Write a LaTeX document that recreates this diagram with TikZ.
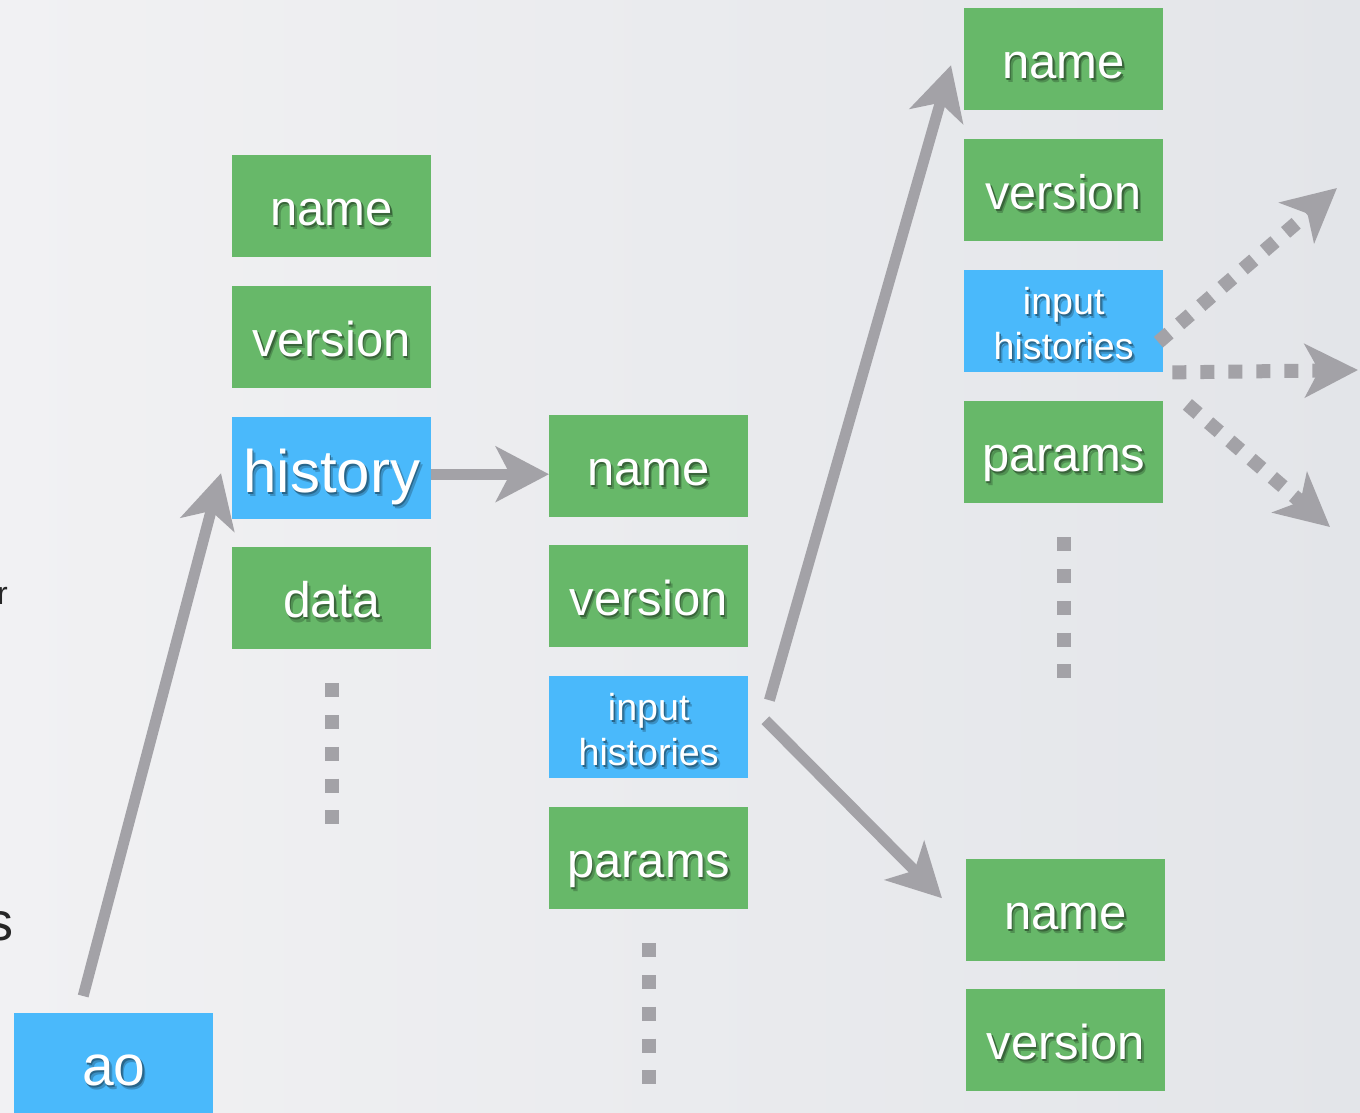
\documentclass[tikz,border=0pt]{standalone}
\usepackage{fontspec}
\setmainfont{Liberation Sans}
\usetikzlibrary{arrows.meta,calc}

\definecolor{boxgreen}{HTML}{67B869}
\definecolor{boxblue}{HTML}{4AB9FB}
\definecolor{arrowgray}{HTML}{A3A2A7}
\definecolor{bgleft}{HTML}{F1F1F3}
\definecolor{bgright}{HTML}{E3E5E9}

\tikzset{
  fieldbox/.style={rectangle, draw=none, minimum width=199pt, minimum height=102pt,
    inner sep=0pt, anchor=north west},
  greenbox/.style={fieldbox, fill=boxgreen},
  bluebox/.style={fieldbox, fill=boxblue},
  lbl/.style={inner sep=0pt, anchor=base, text=white},
  arrowline/.style={draw=arrowgray, line width=11pt,
    -{Stealth[length=53pt, width=55pt, inset=14pt]}},
  dotarrow/.style={draw=arrowgray, line width=14pt, dash pattern=on 14pt off 14pt,
    -{Stealth[length=53pt, width=53pt, inset=14pt]}},
  moredots/.style={draw=arrowgray, line width=14pt, dash pattern=on 14pt off 17.7pt},
  fragtext/.style={inner sep=0pt, text=black!85},
}

% white text with a two-step drop shadow tinted from the box colour
\newcommand\shadowed[2]{%
  \rlap{\hspace{3pt}\raisebox{-4.5pt}{\color{#1!78!black}#2}}%
  \rlap{\hspace{1.5pt}\raisebox{-2.2pt}{\color{#1!55!black}#2}}%
  #2}
% label of a box: node, box colour, font size, baseline offset from centre, text
\newcommand\boxtext[5]{%
  \node[lbl, font=\fontsize{#3}{#3}\selectfont] at ($(#1.center)+(0,#4)$) {\shadowed{#2}{#5}};
}

\begin{document}
\begin{tikzpicture}[x=1pt, y=-1pt]
\useasboundingbox (0,0) rectangle (1360,1112);
\begin{scope}
\clip (0,0) rectangle (1360,1112);
\fill[left color=bgleft, right color=bgright] (0,0) rectangle (1360,1112);

% cut-off letters at the left edge
\node[fragtext, font=\fontsize{32}{32}\selectfont, anchor=base west] (fragr) at (-3,604) {r};
\node[fragtext, font=\fontsize{54}{54}\selectfont, anchor=base west] (frags) at (-14,940) {s};

% root object
\node[bluebox] (ao) at (14,1013) {};
\boxtext{ao}{boxblue}{57}{21}{ao}

% object fields
\node[greenbox] (c1name) at (232,155) {};
\node[greenbox] (c1ver)  at (232,286) {};
\node[bluebox]  (c1hist) at (232,417) {};
\node[greenbox] (c1data) at (232,547) {};
\boxtext{c1name}{boxgreen}{49}{19}{name}
\boxtext{c1ver}{boxgreen}{49}{19}{version}
\boxtext{c1hist}{boxblue}{60}{24}{history}
\boxtext{c1data}{boxgreen}{50}{19.5}{data}

% history fields
\node[greenbox] (c2name) at (549,415) {};
\node[greenbox] (c2ver)  at (549,545) {};
\node[bluebox]  (c2inp)  at (549,676) {};
\node[greenbox] (c2par)  at (549,807) {};
\boxtext{c2name}{boxgreen}{49}{19}{name}
\boxtext{c2ver}{boxgreen}{49}{19}{version}
\boxtext{c2inp}{boxblue}{37.6}{-7}{input}
\boxtext{c2inp}{boxblue}{37.6}{38}{histories}
\boxtext{c2par}{boxgreen}{49}{19}{params}

% first input history
\node[greenbox] (c3name) at (964,8) {};
\node[greenbox] (c3ver)  at (964,139) {};
\node[bluebox]  (c3inp)  at (964,270) {};
\node[greenbox] (c3par)  at (964,401) {};
\boxtext{c3name}{boxgreen}{49}{19}{name}
\boxtext{c3ver}{boxgreen}{48.5}{19}{version}
\boxtext{c3inp}{boxblue}{37.6}{-7}{input}
\boxtext{c3inp}{boxblue}{37.6}{38}{histories}
\boxtext{c3par}{boxgreen}{49}{19}{params}

% second input history
\node[greenbox] (c4name) at (966,859) {};
\node[greenbox] (c4ver)  at (966,989) {};
\boxtext{c4name}{boxgreen}{49}{19}{name}
\boxtext{c4ver}{boxgreen}{49}{19}{version}

% continuation marks below each column
\draw[moredots] ($(c1data.south)+(0,34)$) -- ++(0,141);
\draw[moredots] ($(c2par.south)+(0,34)$) -- ++(0,141);
\draw[moredots] ($(c3par.south)+(0,34)$) -- ++(0,141);

% links
\draw[arrowline] ($(ao.north)+(-30.5,-17)$) -- ($(c1hist.west)+(-11,5)$);
\draw[arrowline] ($(c1hist.east)+(0,6)$) -- ($(c2name.west)+(0,8)$);
\draw[arrowline] ($(c2inp.east)+(21,-27)$) -- ($(c3name.west)+(-13,6)$);
\draw[arrowline] ($(c2inp.east)+(17,-7)$) -- ($(c4name.west)+(-24,-12)$);

% further input histories
\coordinate (outA) at (1337,188);
\coordinate (outB) at (1358,370);
\coordinate (outC) at (1330,527);
\draw[dotarrow] ($(c3inp.east)+(-5,21)$) -- (outA);
\draw[dotarrow] ($(c3inp.south east)+(9,0)$) -- (outB);
\draw[dotarrow] ($(c3inp.south east)+(24,32)$) -- (outC);
\end{scope}
\end{tikzpicture}
\end{document}
